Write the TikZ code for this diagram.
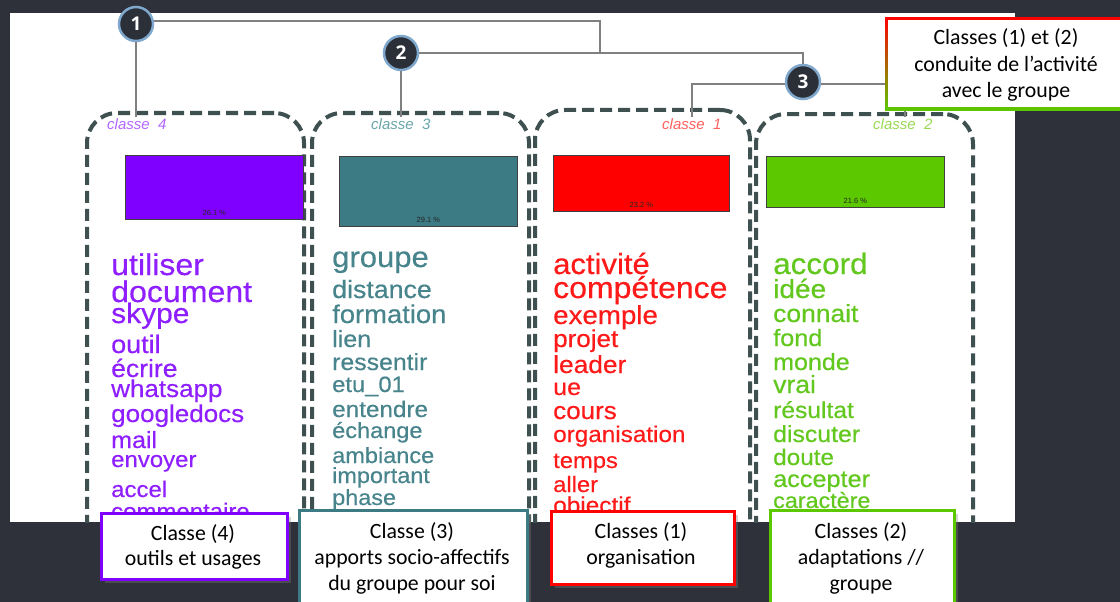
\documentclass[tikz,border=0pt]{standalone}
\usepackage{graphicx}
\usepackage{fontspec}
\setmainfont{Liberation Sans}
\newfontfamily\wordfont[FakeBold=0.4]{Liberation Sans}
\newfontfamily\calfont{Carlito}
\newfontfamily\numfont{Open Sans}
\usetikzlibrary{shadows,calc}
\definecolor{bgdark}{HTML}{2E3139}
\definecolor{circdark}{HTML}{2B2F38}
\definecolor{circblue}{HTML}{7FA8CC}
\definecolor{dendgray}{HTML}{808080}
\definecolor{dashgray}{HTML}{3F5050}
\definecolor{cfour}{HTML}{8000FF}
\definecolor{cthree}{HTML}{3C7A84}
\definecolor{cone}{HTML}{FF0000}
\definecolor{ctwo}{HTML}{5BC800}
\definecolor{wfour}{HTML}{8F1FFF}
\definecolor{wthree}{HTML}{47848C}
\definecolor{wone}{HTML}{FF1A1A}
\definecolor{wtwo}{HTML}{62C81E}
\definecolor{lfour}{HTML}{B266FF}
\definecolor{lthree}{HTML}{6AA5AA}
\definecolor{lone}{HTML}{FF6060}
\definecolor{ltwo}{HTML}{99D955}
\newcommand{\wstretch}[1]{\scalebox{1.07}[1]{#1}}
\tikzset{
  circ/.style={circle, fill=circdark, draw=circblue, line width=2.5pt, minimum size=34pt, inner sep=0pt, text=white, font=\numfont\bfseries\fontsize{19}{19}\selectfont},
  dend/.style={draw=dendgray, line width=2pt},
  dashbox/.style={draw=dashgray, line width=4pt, dash pattern=on 12pt off 6pt, rounded corners=30pt, anchor=north west, inner sep=0pt},
  bar/.style={draw=black!75, line width=0.8pt, anchor=north west, inner sep=0pt},
  pct/.style={anchor=base, inner sep=0pt, text=black!85, font=\fontsize{7.5}{7.5}\selectfont},
  word/.style={anchor=base west, inner sep=0pt},
  clab/.style={anchor=base west, inner sep=0pt, font=\itshape\fontsize{15}{15}\selectfont},
  labbox/.style={fill=white, line width=3pt, anchor=north west, inner sep=0pt, drop shadow={opacity=0.35, shadow xshift=3pt, shadow yshift=-3pt}},
  labtxt/.style={anchor=base, inner sep=0pt, font=\calfont\fontsize{21.8}{26}\selectfont}
}
\begin{document}
\begin{tikzpicture}[x=1pt,y=-1pt]
\useasboundingbox (0,0) rectangle (1120,602);
\fill[bgdark] (0,0) rectangle (1120,602);
\fill[white] (10,13) rectangle (1015,522);

% dendrogram junctions
\coordinate (j12) at (600,53);
\coordinate (c4top) at (136,117);
\coordinate (c3top) at (401,117);
\coordinate (c1top) at (692,117);
\coordinate (c2top) at (905,117);

\begin{scope}
\clip (10,13) rectangle (1015,522);
% dashed class boxes
\node[dashbox, minimum width=217pt, minimum height=600pt] (b4) at (85,111) {};
\node[dashbox, minimum width=217pt, minimum height=600pt] (b3) at (310,111) {};
\node[dashbox, minimum width=215pt, minimum height=600pt] (b1) at (533,108) {};
\node[dashbox, minimum width=217pt, minimum height=600pt] (b2) at (754,112) {};

% class titles
\node[clab, text=lfour] (t4) at (107,129) {classe\ \ 4};
\node[clab, text=lthree] (t3) at (371,129) {classe\ \ 3};
\node[clab, text=lone] (t1) at (662,129) {classe\ \ 1};
\node[clab, text=ltwo] (t2) at (873,129) {classe\ \ 2};

% bars
\node[bar, fill=cfour, minimum width=178pt, minimum height=64pt] (bar4) at (125,155) {};
\node[bar, fill=cthree, minimum width=178pt, minimum height=70pt] (bar3) at (339,156) {};
\node[bar, fill=cone, minimum width=176pt, minimum height=56pt] (bar1) at (553,155) {};
\node[bar, fill=ctwo, minimum width=178pt, minimum height=51pt] (bar2) at (766,156) {};
\node[pct] (p4) at ($(bar4.south)+(0,-4)$) {26.1 \%};
\node[pct] (p3) at ($(bar3.south)+(0,-4)$) {29.1 \%};
\node[pct] (p1) at ($(bar1.south)+(0,-4)$) {23.2 \%};
\node[pct] (p2) at ($(bar2.south)+(0,-4)$) {21.6 \%};

% words (size = width-based size / 1.07, then stretched horizontally)
\foreach \t/\y/\s [count=\i] in {utiliser/275/30,document/302/30,skype/323/28,outil/353/25.2,écrire/377/24.8,whatsapp/397/24.3,googledocs/422/24.3,mail/448/23.4,envoyer/467/22.4,accel/497/22.4,commentaire/519/22.4}
  \node[word, text=wfour, font=\wordfont\fontsize{\s}{\s}\selectfont] (wf\i) at (111,\y) {\wstretch{\t}};
\foreach \t/\y/\s [count=\i] in {groupe/267/29,distance/298/25,formation/323/25.6,lien/347/23.4,ressentir/370/23.2,etu\_01/392/22.2,entendre/417/22.7,échange/438/22,ambiance/463/22,important/483/21.9,phase/505/21.9}
  \node[word, text=wthree, font=\wordfont\fontsize{\s}{\s}\selectfont] (wt\i) at (332,\y) {\wstretch{\t}};
\foreach \t/\y/\s [count=\i] in {activité/274/29,compétence/298/29.9,exemple/324/25.9,projet/347/24.3,leader/373/24.6,ue/395/23.4,cours/419/24.3,organisation/442/22.7,temps/468/22.2,aller/492/22.2,objectif/513/22.8}
  \node[word, text=wone, font=\wordfont\fontsize{\s}{\s}\selectfont] (wo\i) at (553,\y) {\wstretch{\t}};
\foreach \t/\y/\s [count=\i] in {accord/274/29.4,idée/298/26.2,connait/322/24.7,fond/346/23.6,monde/370/23.4,vrai/393/24.8,résultat/418/23,discuter/442/23.2,doute/465/22.7,accepter/487/23.6,caractère/508/21.8}
  \node[word, text=wtwo, font=\wordfont\fontsize{\s}{\s}\selectfont] (ww\i) at (773,\y) {\wstretch{\t}};
\end{scope}

% circles
\node[circ] (n1) at (136,24) {1};
\node[circ] (n2) at (401,53) {2};
\node[circ] (n3) at (803,82) {3};

% dendrogram lines
\draw[dend] (n1.10) -| (j12);
\draw[dend] (n2.east) -| (n3.north);
\draw[dend] (n1.south) -- (c4top);
\draw[dend] (n2.south) -- (c3top);
\draw[dend] (n3.185) -| (c1top);
\draw[dend] (n3.-5) -| (c2top);

% top-right box
\node[anchor=north west, minimum width=240pt, minimum height=93pt, inner sep=0pt, top color=red, bottom color=ctwo, draw=none] (topbox) at (885,17) {};
\node[anchor=north west, minimum width=240pt, minimum height=87pt, inner sep=0pt, fill=white] (topin) at (888,20) {};
\node[labtxt] (tt1) at (1006,45) {Classes (1) et (2)};
\node[labtxt] (tt2) at (1006,72) {conduite de l’activité};
\node[labtxt] (tt3) at (1006,98) {avec le groupe};

% bottom label boxes
\node[labbox, draw=cfour, minimum width=186pt, minimum height=66pt] (lab4) at (100,512) {};
\node[labtxt] (lab4a) at (193,540) {Classe (4)};
\node[labtxt] (lab4b) at (193,565) {outils et usages};

\node[labbox, draw=cthree, minimum width=228pt, minimum height=120pt] (lab3) at (298,509) {};
\node[labtxt] (lab3a) at (412,538) {Classe (3)};
\node[labtxt] (lab3b) at (412,564) {apports socio-affectifs};
\node[labtxt] (lab3c) at (412,590) {du groupe pour soi};

\node[labbox, draw=cone, minimum width=183pt, minimum height=73pt] (lab1) at (550,510) {};
\node[labtxt] (lab1a) at (641,538) {Classes (1)};
\node[labtxt] (lab1b) at (641,564) {organisation};

\node[labbox, draw=ctwo, minimum width=184pt, minimum height=120pt] (lab2) at (769,509) {};
\node[labtxt] (lab2a) at (861,538) {Classes (2)};
\node[labtxt] (lab2b) at (861,564) {adaptations //};
\node[labtxt] (lab2c) at (861,590) {groupe};
\end{tikzpicture}
\end{document}
